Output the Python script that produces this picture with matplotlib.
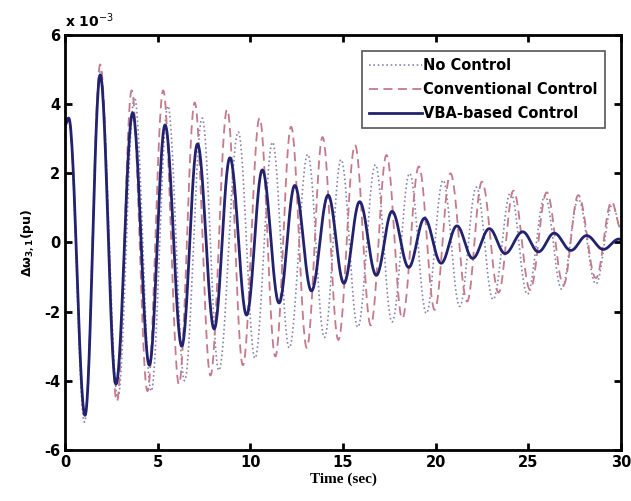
import matplotlib.pyplot as plt
from matplotlib.ticker import FuncFormatter
import numpy as np

plt.rcParams['axes.unicode_minus'] = False

# extrema (time in s, value in 1e-3 pu)
t_nc = [0, 0.2, 1.05, 1.9, 2.85, 3.75, 4.65, 5.55, 6.45, 7.4, 8.3, 9.35, 10.25, 11.2, 12.1,
        13.1, 14.0, 14.9, 15.8, 16.75, 17.65, 18.6, 19.5, 20.4, 21.3, 22.2, 23.1, 24.05,
        24.95, 25.9, 26.8, 27.7, 28.65, 29.55, 30]
v_nc = [3.4, 3.6, -5.2, 4.95, -4.5, 4.2, -4.3, 3.95, -4.0, 3.6, -3.7, 3.2, -3.35, 2.9, -3.05,
        2.55, -2.75, 2.4, -2.45, 2.25, -2.3, 2.0, -2.05, 1.8, -1.85, 1.6, -1.65, 1.45,
        -1.5, 1.35, -1.35, 1.25, -1.2, 1.1, 0.4]

t_cc = [0, 0.2, 1.08, 1.9, 2.8, 3.6, 4.45, 5.3, 6.15, 7.0, 7.85, 8.75, 9.6, 10.5, 11.35,
        12.2, 13.05, 13.9, 14.75, 15.65, 16.5, 17.35, 18.2, 19.1, 19.95, 20.8, 21.7, 22.5,
        23.4, 24.2, 25.1, 26.0, 26.9, 27.7, 28.65, 29.5, 30]
v_cc = [3.4, 3.6, -5.0, 5.15, -4.6, 4.4, -4.3, 4.4, -4.1, 4.05, -3.85, 3.85, -3.55, 3.6, -3.3,
        3.35, -3.05, 3.05, -2.82, 2.82, -2.4, 2.53, -2.2, 2.2, -1.95, 2.0, -1.71, 1.76,
        -1.45, 1.5, -1.37, 1.45, -1.23, 1.37, -1.03, 1.18, 0.4]

t_vba = [0, 0.2, 1.08, 1.9, 2.75, 3.65, 4.55, 5.4, 6.3, 7.15, 8.05, 8.9, 9.8, 10.65, 11.55,
         12.4, 13.3, 14.2, 15.05, 15.9, 16.8, 17.65, 18.55, 19.4, 20.3, 21.15, 22.0, 22.9,
         23.75, 24.7, 25.55, 26.4, 27.3, 28.15, 29.05, 29.9, 30]
v_vba = [3.4, 3.6, -5.0, 4.85, -4.1, 3.75, -3.55, 3.4, -3.0, 2.85, -2.5, 2.45, -2.1, 2.1, -1.75,
         1.65, -1.4, 1.37, -1.18, 1.18, -0.95, 0.9, -0.72, 0.7, -0.6, 0.48, -0.46, 0.4,
         -0.32, 0.31, -0.27, 0.27, -0.23, 0.2, -0.2, 0.1, 0.08]


def through_extrema(t, v, n=30):
    # half-cosine between neighbouring extrema
    ts, vs = [], []
    for i in range(len(t) - 1):
        s = np.linspace(0, 1, n, endpoint=False)
        ts.append(t[i] + (t[i + 1] - t[i]) * s)
        vs.append(v[i] + (v[i + 1] - v[i]) * (1 - np.cos(np.pi * s)) / 2)
    ts.append([t[-1]])
    vs.append([v[-1]])
    return np.concatenate(ts), np.concatenate(vs) * 1e-3


fig = plt.figure(figsize=(6.31, 5.01), dpi=100)
ax = fig.add_axes([0.103, 0.102, 0.881, 0.828])

x, y = through_extrema(t_nc, v_nc)
ax.plot(x, y, color='#8585b5', lw=1.2, dashes=(1, 1.6), label='No Control')
x, y = through_extrema(t_cc, v_cc)
ax.plot(x, y, '--', color='#c47a8a', lw=1.3, dashes=(5, 3), label='Conventional Control')
x, y = through_extrema(t_vba, v_vba)
ax.plot(x, y, '-', color='#22226e', lw=2.0, label='VBA-based Control')

ax.set_xlim(0, 30)
ax.set_ylim(-6e-3, 6e-3)
ax.set_xticks(np.arange(0, 31, 5))
ax.set_yticks(np.arange(-6e-3, 6.1e-3, 2e-3))
ax.yaxis.set_major_formatter(FuncFormatter(lambda v, _: f'{v * 1e3:.0f}'))
ax.text(0.0, 1.012, r'x 10$^{-3}$', transform=ax.transAxes, fontsize=10,
        fontweight='bold', va='bottom', ha='left')

ax.tick_params(direction='in', top=True, right=True, length=5, width=2, labelsize=10.5)
for lab in ax.get_xticklabels() + ax.get_yticklabels():
    lab.set_fontweight('bold')
for sp in ax.spines.values():
    sp.set_linewidth(2)

ax.set_xlabel('Time (sec)', fontsize=11, fontweight='bold', family='Liberation Serif', labelpad=2)
ax.set_ylabel(r'$\mathbf{\Delta\omega_{3,1}}$(pu)', fontsize=9, fontweight='bold', labelpad=6)

leg = ax.legend(loc='upper right', prop={'weight': 'bold', 'size': 10.5},
                fancybox=False, edgecolor='#555555', framealpha=1, handlelength=3.6,
                handletextpad=0.1, borderpad=0.5, labelspacing=0.6, borderaxespad=1.1)
leg.get_frame().set_linewidth(1.2)

fig.savefig('out.png', dpi=100)
